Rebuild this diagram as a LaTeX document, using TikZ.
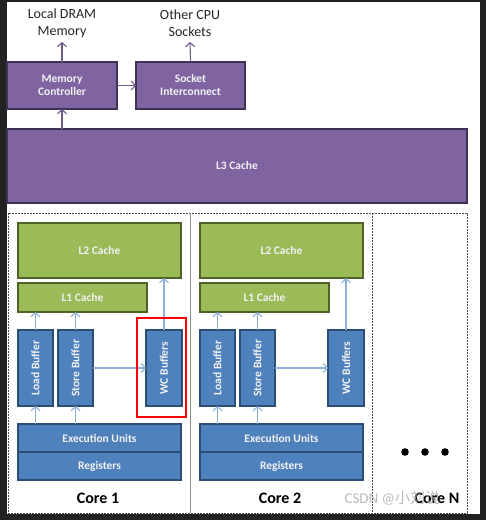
\documentclass[tikz,border=0pt]{standalone}
\usepackage{fontspec}
\setmainfont{Carlito}
\newfontfamily\cjk{Noto Sans CJK SC}
\usepackage{graphicx}
\usetikzlibrary{arrows.meta}
\definecolor{purp}{HTML}{8064A2}
\definecolor{purpd}{HTML}{3F3151}
\definecolor{grn}{HTML}{9BBB59}
\definecolor{grnd}{HTML}{4F6228}
\definecolor{blu}{HTML}{4F81BD}
\definecolor{blud}{HTML}{2C4D75}
\definecolor{arrb}{HTML}{8EB0DA}
\definecolor{arrp}{HTML}{6E5C8A}
\definecolor{bgdark}{HTML}{222222}
\tikzset{
  boxbase/.style={outer sep=0pt, inner sep=0pt, text=white!95!black, font=\fontsize{11.5}{13}\selectfont\bfseries},
  purplebox/.style={boxbase, fill=purp, draw=purpd, line width=1.6pt},
  greenbox/.style={boxbase, fill=grn, draw=grnd, line width=1.6pt},
  bluebox/.style={boxbase, fill=blu, draw=blud, line width=1.2pt},
  barrow/.style={draw=arrb, line width=1.1pt, -{Straight Barb[length=4pt,width=9pt]}},
  parrow/.style={draw=arrp, line width=1.1pt, -{Straight Barb[length=4pt,width=9pt]}},
  toplabel/.style={align=center, text=black!85, font=\fontsize{14}{17}\selectfont},
  corelabel/.style={text=black, font=\fontsize{16}{18}\selectfont\bfseries},
}
\begin{document}
\begin{tikzpicture}[x=1pt,y=-1pt]
\useasboundingbox (0,0) rectangle (486,520);
\fill[bgdark] (0,0) rectangle (486,520);
\fill[white] (7,2) rectangle (480,514);

% top labels
\node[toplabel] (dram) at (62,23) {Local DRAM\\Memory};
\node[toplabel] (cpus) at (190,23) {Other CPU\\Sockets};
\coordinate (dramc) at (62,42);
\coordinate (cpusc) at (190,42);

% purple boxes
\node[purplebox, minimum width=110pt, minimum height=47pt, align=center] (mc) at (62,85.5) {Memory\\Controller};
\node[purplebox, minimum width=109pt, minimum height=47pt, align=center] (si) at (190.5,85.5) {Socket\\Interconnect};
\node[purplebox, minimum width=460pt, minimum height=74pt] (l3) at (237,166) {L3 Cache};

\draw[parrow] (mc.north) -- (dramc);
\draw[parrow] (si.north) -- (cpusc);
\draw[parrow] (mc.east) -- (si.west);
\draw[parrow] (l3.north -| mc.south) -- (mc.south);

% core frame
\draw[black!70, line width=0.6pt, dash pattern=on 2pt off 1pt] (8,213) rectangle (467,513);
\draw[black!45, line width=1pt] (190,213) -- (190,513);
\draw[black!70, line width=0.6pt, dash pattern=on 2pt off 1pt] (372,213) -- (372,513);

% cores
\foreach \c/\dx in {1/0,2/182}{
  \begin{scope}[xshift=\dx]
  \node[greenbox, minimum width=163pt, minimum height=55pt] (l2\c) at (99.5,250.5) {L2 Cache};
  \node[greenbox, minimum width=129pt, minimum height=29pt] (l1\c) at (82.5,297.5) {L1 Cache};
  \node[bluebox, minimum width=35pt, minimum height=76pt] (ld\c) at (35.5,368) {\rotatebox{90}{Load Buffer}};
  \node[bluebox, minimum width=35pt, minimum height=76pt] (st\c) at (75.5,368) {\rotatebox{90}{Store Buffer}};
  \node[bluebox, minimum width=36pt, minimum height=76pt] (wc\c) at (164,368) {\rotatebox{90}{WC Buffers}};
  \node[bluebox, minimum width=163pt, minimum height=28pt] (eu\c) at (99.5,438) {Execution Units};
  \node[bluebox, minimum width=163pt, minimum height=28pt] (rg\c) at (99.5,466) {Registers};
  \node[corelabel] (core\c) at (98,498) {Core \c};
  \draw[barrow] (ld\c.north) -- (ld\c.north |- l1\c.south);
  \draw[barrow] (st\c.north) -- (st\c.north |- l1\c.south);
  \draw[barrow] (wc\c.north) -- (wc\c.north |- l2\c.south);
  \draw[barrow] (eu\c.north -| ld\c.south) -- (ld\c.south);
  \draw[barrow] (eu\c.north -| st\c.south) -- (st\c.south);
  \draw[barrow] (st\c.east) -- (wc\c.west);
  \end{scope}
}

% highlight
\draw[red, line width=1.5pt] (137,318) rectangle (186,417);

% core N
\foreach \k/\xx in {1/405,2/425,3/445}{
  \fill[black] (\xx,452) circle (3.8pt) coordinate (dot\k);
}
\node[corelabel] (coren) at (437,498) {Core N};

% watermark
\node[text=black!35, opacity=0.75, font=\fontsize{15}{17}\selectfont, anchor=west] (wm) at (341,498) {CSDN @{\cjk 小刘说}};
\end{tikzpicture}
\end{document}
